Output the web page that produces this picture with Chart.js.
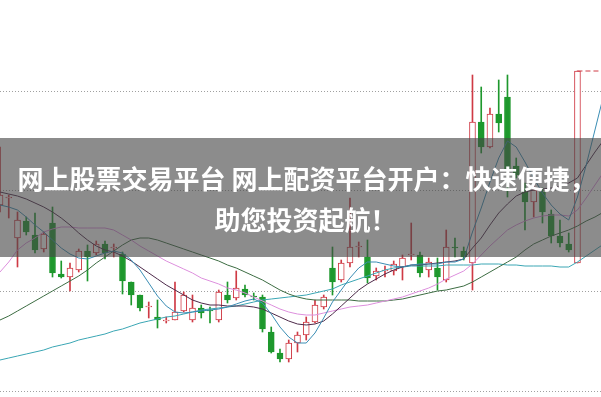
<!DOCTYPE html>
<html><head><meta charset="utf-8">
<script src="https://cdn.jsdelivr.net/npm/chart.js@4.4.1/dist/chart.umd.min.js"></script>
<style>
html,body{margin:0;padding:0;background:#fff;}
#wrap{position:relative;width:601px;height:397px;overflow:hidden;}
#c{position:absolute;left:0;top:0;}
#banner{position:absolute;left:0;top:138px;width:601px;height:119px;background:rgba(70,70,70,0.62);}
.t{position:absolute;left:0;width:601px;text-align:center;color:#fff;font-family:"Noto Sans CJK SC","Noto Sans CJK JP",sans-serif;font-weight:700;font-size:26px;line-height:40px;white-space:nowrap;}
</style></head><body>
<div id="wrap"><canvas id="c" width="601" height="397"></canvas>
<div id="banner"><div class="t" style="top:20px;left:6px">网上股票交易平台 网上配资平台开户：快速便捷，</div><div class="t" style="top:61px;left:5px">助您投资起航！</div></div></div>
<script>
// trading-day index (one per candle / moving-average point)
const days = [0,1,2,3,4,5,6,7,8,9,10,11,12,13,14,15,16,17,18,19,20,21,22,23,24,25,26,27,28,29,30,31,32,33,34,35,36,37,38,39,40,41,42,43,44,45,46,47,48,49,50,51,52,53,54,55,56,57,58,59,60,61,62,63,64,65,66,67,68,69];

const open  = [28.6,29.3,25.3,27.0,25.6,24.2,26.8,21.7,21.4,22.1, 24.0,23.8,24.7,24.3,23.7,20.9,19.6,18.4,17.4,17.0, 17.1,18.0,17.1,18.3,18.1,17.1,19.6,19.3,20.2,19.5, 19.4,15.9,13.8,13.2,14.8,15.6,16.9,18.4,22.3,21.1, 22.8,24.4,23.4,21.5,22.0,22.0,22.4,23.6,23.6,22.1, 22.3,21.1,24.4,24.0,22.8,36.9,34.4,37.7,39.4,32.5, 30.1,28.9,29.9,27.7,25.5,24.7,22.8];
const high  = [34.4,29.6,27.9,27.4,27.8,25.9,28.4,23.0,22.8,24.2, 24.6,25.0,25.0,24.7,23.9,20.9,19.6,18.9,19.1,17.4, 20.9,19.9,19.6,18.6,18.4,20.1,20.9,22.0,20.6,19.8, 19.6,16.4,14.2,15.1,15.9,17.4,19.1,19.6,24.4,23.1, 29.3,24.9,25.1,22.3,22.5,23.0,23.6,26.8,23.9,23.3, 23.3,26.1,25.3,24.4,41.6,40.4,38.3,41.1,41.6,33.3, 30.8,30.6,30.3,28.1,27.1,25.8,42.0];
const low   = [27.9,27.3,22.4,25.6,23.8,23.9,21.4,21.3,20.0,21.9, 21.0,23.6,23.2,23.4,19.7,18.6,18.0,17.3,16.3,16.8, 17.1,17.9,16.9,17.3,16.8,16.9,18.8,19.1,19.4,19.1, 15.9,13.8,12.9,12.9,13.9,15.1,16.8,18.2,19.6,20.9, 22.4,23.4,20.8,21.1,21.4,21.6,21.1,23.1,21.4,21.4, 20.1,20.9,23.4,23.1,20.1,33.8,34.3,35.9,29.4,31.3, 26.1,27.4,26.8,24.8,24.4,23.9,22.8];
const close = [29.6,29.4,27.1,25.9,24.1,25.7,21.8,21.4,22.3,24.0, 23.4,24.7,23.8,24.4,21.0,19.6,18.3,18.5,17.1,17.1, 17.9,19.6,18.3,17.8,18.0,19.9,19.1,20.3,19.6,19.4, 16.2,13.9,13.2,14.8,15.6,16.9,18.6,19.4,20.9,22.8, 24.4,24.5,21.3,22.0,22.1,22.7,23.3,23.7,21.8,22.9, 21.4,24.4,24.3,23.4,36.9,34.4,37.7,36.8,32.1,31.6, 28.9,30.1,27.9,25.5,24.8,24.1,42.0];

const ma5  = [28.6,28.4,28.1,27.4,26.6,25.9,25.1,24.3,23.7,23.3, 23.2,23.5,23.8,24.0,23.8,23.1,22.1,20.8,19.5,18.5, 17.9,17.8,17.9,18.0,18.1,18.2,18.4,18.7,19.0,19.2, 18.8,17.7,16.4,15.4,14.8,14.8,15.8,17.3,18.9,20.1, 21.3,22.3,22.9,22.9,22.7,22.5,22.4,22.6,22.7,22.7, 22.7,22.9,22.9,23.2,25.9,28.3,30.9,33.3,35.0,34.4, 32.9,31.3,29.8,28.6,27.7,27.1,29.4,32.6,36.1,39.6];
const ma10 = [29.9,29.7,29.5,29.2,28.8,28.4,27.9,27.3,26.6,25.8, 25.1,24.5,24.1,23.9,23.5,23.0,22.4,21.8,21.2,20.6, 20.1,19.6,19.1,18.8,18.6,18.6,18.5,18.5,18.5,18.4, 18.2,17.8,17.4,17.0,16.7,16.6,16.7,17.0,17.7,18.5, 19.3,20.1,20.7,21.2,21.7,22.1,22.4,22.6,22.6,22.7, 22.8,22.9,23.0,23.2,24.3,25.3,26.6,27.8,28.7,29.5, 29.9,30.1,30.2,30.3,30.5,30.8,31.3,32.6,33.9,35.1];
const ma20 = [21.9,22.9,24.1,24.8,25.3,25.9,26.2,26.4,26.4,26.3, 26.3,26.3,26.3,26.1,25.6,25.1,24.5,24.0,23.5,23.0, 22.6,22.2,21.8,21.3,21.0,20.7,20.3,20.1,19.8,19.4, 19.0,18.6,18.2,17.9,17.7,17.6,17.6,17.8,18.0,18.2, 18.4,18.5,18.6,18.8,19.0,19.2,19.4,19.7,20.0,20.3, 20.7,21.2,21.6,22.0,22.7,23.6,24.5,25.3,26.1,26.6, 27.0,27.3,27.5,27.6,27.6,27.5,28.1,29.3,30.6,31.9];
const ma30 = [17.1,17.5,18.0,18.5,19.0,19.5,20.0,20.5,21.0,21.5, 22.1,22.8,23.4,24.0,24.6,25.1,25.3,25.3,25.1,24.8, 24.5,24.2,23.9,23.6,23.3,23.0,22.6,22.3,21.9,21.5, 21.1,20.6,20.1,19.7,19.4,19.2,19.1,19.1,19.1,19.1, 19.1,19.0,19.0,19.0,19.0,19.1,19.2,19.4,19.6,19.8, 20.0,20.1,20.3,20.5,20.9,21.4,21.9,22.4,22.9,23.4, 24.1,24.7,25.1,25.5,25.8,26.1,26.5,27.0,27.4,27.9];
const ma60 = [13.1,13.3,13.5,13.7,13.9,14.1,14.4,14.6,14.8,15.1, 15.3,15.5,15.7,16.0,16.2,16.5,16.8,17.0,17.2,17.4, 17.5,17.7,17.9,18.1,18.2,18.3,18.4,18.5,18.7,18.9, 19.1,19.2,19.3,19.4,19.5,19.6,19.8,20.0,20.2,20.6, 20.9,21.2,21.5,21.8,22.1,22.3,22.4,22.5,22.5,22.5, 22.5,22.6,22.6,22.6,22.6,22.7,22.7,22.7,22.6,22.6, 22.5,22.5,22.5,22.5,22.4,22.4,22.9,23.5,24.1,24.7];

const gridValues = [10, 20, 30, 40];

const RED = '#cf3a45', GREEN = '#1e982d';
const up = open.map((o, i) => close[i] >= o);
const candleColor = up.map(u => u ? RED : GREEN);

const wickData = open.map((o, i) => ({x: days[i], y: [low[i], high[i]]}));
const bodyData = open.map((o, i) => ({x: days[i], y: [open[i], close[i]]}));
const lineData = arr => arr.map((v, i) => ({x: days[i], y: v}));
const lastIdx = close.length - 1;
const limitData = [{x: days[lastIdx], y: close[lastIdx]}, {x: days[days.length - 1], y: close[lastIdx]}];

const mkLine = (arr, color, ord) => ({
  type: 'line', data: lineData(arr), borderColor: color, borderWidth: 1,
  pointRadius: 0, tension: 0, fill: false, order: ord
});

new Chart(document.getElementById('c'), {
  type: 'bar',
  data: {
    datasets: [
      {type: 'bar', data: wickData, backgroundColor: candleColor, borderWidth: 0,
       barThickness: 1, grouped: false, order: 10},
      {type: 'bar', data: bodyData, backgroundColor: up.map(u => u ? '#ffffff' : GREEN),
       borderColor: candleColor, borderWidth: 1, borderSkipped: false,
       barThickness: 6, grouped: false, order: 9},
      mkLine(ma60, '#3aa6b4', 5),
      mkLine(ma30, '#3c6c42', 4),
      mkLine(ma20, '#dd8fdd', 3),
      mkLine(ma10, '#4d2a4a', 2),
      mkLine(ma5,  '#3a8db4', 1),
      {type: 'line', data: limitData, borderColor: RED, borderWidth: 1, borderDash: [5, 3],
       pointRadius: 0, order: 0}
    ]
  },
  options: {
    responsive: false,
    devicePixelRatio: 1,
    animation: false,
    layout: {padding: 0},
    plugins: {legend: {display: false}, tooltip: {enabled: false}},
    scales: {
      x: {type: 'linear', min: 0, max: 68.69, offset: false, display: false},
      y: {
        min: 9.4, max: 49.1,
        afterBuildTicks: s => { s.ticks = gridValues.map(v => ({value: v})); },
        ticks: {display: false},
        grid: {color: '#a0a0a0', lineWidth: 1, drawTicks: false},
        border: {display: false, dash: [1, 2]}
      }
    }
  }
});
</script>
</body></html>
